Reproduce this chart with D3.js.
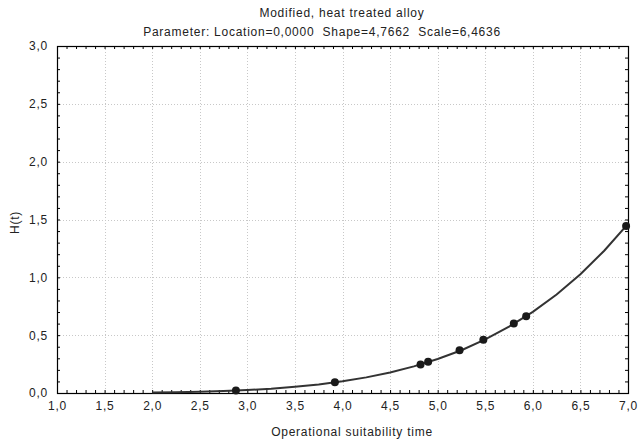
<!DOCTYPE html>
<html>
<head>
<meta charset="utf-8">
<script src="https://cdn.jsdelivr.net/npm/d3@7"></script>
<style>
  html, body { margin: 0; padding: 0; background: #fff; }
  svg { display: block; font-family: "Liberation Sans", Arial, sans-serif; }
  text { white-space: pre; }
</style>
</head>
<body>
<svg id="chart" width="638" height="440"></svg>
<script>
// Observed failure times and their cumulative hazard
const obsTime = [2.88, 3.92, 4.82, 4.90, 5.23, 5.48, 5.80, 5.93, 6.98];
const obsHazard = [0.021, 0.092, 0.247, 0.27, 0.37, 0.46, 0.60, 0.663, 1.443];

// Fitted cumulative hazard curve
const curveTime = [2.0, 2.25, 2.5, 2.75, 3.0, 3.25, 3.5, 3.75, 4.0, 4.25, 4.5, 4.75, 5.0, 5.25, 5.5, 5.75, 6.0, 6.25, 6.5, 6.75, 7.0];
const curveHazard = [0.004, 0.0066, 0.011, 0.017, 0.026, 0.037, 0.054, 0.074, 0.102, 0.135, 0.178, 0.23, 0.294, 0.37, 0.463, 0.573, 0.701, 0.851, 1.027, 1.23, 1.462];

const xTicks = [1.0, 1.5, 2.0, 2.5, 3.0, 3.5, 4.0, 4.5, 5.0, 5.5, 6.0, 6.5, 7.0];
const yTicks = [0.0, 0.5, 1.0, 1.5, 2.0, 2.5, 3.0];

const title = "Modified, heat treated alloy";
const subtitle = "Parameter: Location=0,0000  Shape=4,7662  Scale=6,4636";
const xTitle = "Operational suitability time";
const yTitle = "H(t)";

const svg = d3.select("#chart");
const m = { left: 57, right: 628, top: 46, bottom: 393 };
const FS = 12, LS = 0.75;

const x = d3.scaleLinear().domain([1, 7]).range([m.left, m.right]);
const y = d3.scaleLinear().domain([0, 3]).range([m.bottom, m.top]);
const fmt = v => v.toFixed(1).replace(".", ",");

// grid
const grid = svg.append("g").attr("stroke", "#c8c8c8").attr("stroke-dasharray", "1,2").attr("stroke-width", 1);
xTicks.slice(1, -1).forEach(t => {
  grid.append("line").attr("x1", Math.round(x(t)) + 0.5).attr("x2", Math.round(x(t)) + 0.5)
    .attr("y1", m.top).attr("y2", m.bottom);
});
yTicks.slice(1, -1).forEach(t => {
  grid.append("line").attr("y1", Math.round(y(t)) + 0.5).attr("y2", Math.round(y(t)) + 0.5)
    .attr("x1", m.left).attr("x2", m.right);
});

// axes with inward minor ticks, mirrored on top and right
const minorX = d3.range(10, 71).map(d => d / 10);
const minorY = d3.range(0, 31).map(d => d / 10);

function axisTicks(g, axis, ticks, len) {
  axis.tickValues(ticks).tickSize(len).tickSizeOuter(0).tickFormat("");
  g.call(axis);
  g.select(".domain").remove();
  g.selectAll("line").attr("stroke", "#000");
}

axisTicks(svg.append("g").attr("transform", `translate(0,${m.bottom})`), d3.axisTop(x), minorX, 3);
axisTicks(svg.append("g").attr("transform", `translate(0,${m.top})`), d3.axisBottom(x), minorX, 3);
axisTicks(svg.append("g").attr("transform", `translate(${m.left},0)`), d3.axisRight(y), minorY, 3);
axisTicks(svg.append("g").attr("transform", `translate(${m.right},0)`), d3.axisLeft(y), minorY, 3);

// frame
svg.append("rect").attr("x", m.left + 0.5).attr("y", m.top + 0.5)
  .attr("width", m.right - m.left).attr("height", m.bottom - m.top)
  .attr("fill", "none").attr("stroke", "#000").attr("stroke-width", 1.2);

// tick labels
const xLab = d3.axisBottom(x).tickValues(xTicks).tickSize(0).tickPadding(8).tickFormat(fmt);
const gx = svg.append("g").attr("transform", `translate(0,${m.bottom})`).call(xLab);
gx.select(".domain").remove();
gx.selectAll("text").attr("font-size", FS).attr("letter-spacing", LS).attr("fill", "#222")
  .attr("font-family", "Liberation Sans, Arial, sans-serif");

const yLab = d3.axisLeft(y).tickValues(yTicks).tickSize(0).tickPadding(9).tickFormat(fmt);
const gy = svg.append("g").attr("transform", `translate(${m.left},0)`).call(yLab);
gy.select(".domain").remove();
gy.selectAll("text").attr("font-size", FS).attr("letter-spacing", LS).attr("fill", "#222")
  .attr("font-family", "Liberation Sans, Arial, sans-serif");

// titles
function label(tx, ty, s) {
  return svg.append("text").attr("x", tx).attr("y", ty).attr("text-anchor", "middle")
    .attr("font-size", FS).attr("letter-spacing", LS).attr("fill", "#222").text(s);
}
label(342, 17, title);
label(322, 36, subtitle);
label(352, 436, xTitle);
svg.append("text").attr("transform", `translate(19,${(m.top + m.bottom) / 2 + 3}) rotate(-90)`)
  .attr("text-anchor", "middle").attr("font-size", FS).attr("letter-spacing", LS)
  .attr("fill", "#222").text(yTitle);

// fitted curve
const line = d3.line().x((d, i) => x(curveTime[i])).y(d => y(d));
svg.append("path").datum(curveHazard).attr("d", line)
  .attr("fill", "none").attr("stroke", "#333").attr("stroke-width", 2);

// observed points
svg.append("g").selectAll("circle").data(obsHazard).join("circle")
  .attr("cx", (d, i) => x(obsTime[i])).attr("cy", d => y(d)).attr("r", 4)
  .attr("fill", "#1a1a1a");
</script>
</body>
</html>
